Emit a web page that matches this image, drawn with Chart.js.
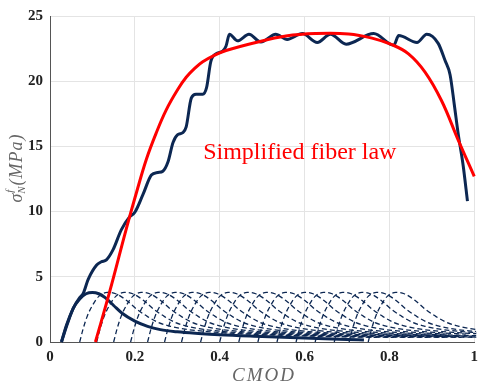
<!DOCTYPE html>
<html>
<head>
<meta charset="utf-8">
<script src="https://cdn.jsdelivr.net/npm/chart.js@4.4.0/dist/chart.umd.min.js"></script>
<style>
  html, body { margin: 0; padding: 0; background: #fff; }
  #wrap { width: 484px; height: 385px; position: relative; }
</style>
</head>
<body>
<div id="wrap"><canvas id="c" width="484" height="385"></canvas></div>
<script>
// ---- data ----
const xTicks = [0, 0.2, 0.4, 0.6, 0.8, 1];
const yTicks = [0, 5, 10, 15, 20, 25];

// aggregate fiber response (solid navy)
const mainCmod = [0.027,0.039,0.055,0.07,0.078,0.09,0.11,0.121,0.133,0.149,0.168,0.188,0.2,0.219,0.239,0.254,0.266,0.278,0.29,0.301,0.313,0.321,0.333,0.344,0.36,0.369,0.379,0.391,0.407,0.415,0.423,0.442,0.469,0.497,0.532,0.559,0.595,0.63,0.661,0.698,0.763,0.81,0.822,0.865,0.888,0.915,0.931,0.943,0.953,0.962,0.974,0.984];
const mainSigma = [0,1.3,2.6,3.4,3.7,4.8,5.9,6.15,6.3,7.1,8.6,9.6,9.95,11.3,12.8,13.0,13.1,13.8,15.3,15.9,16.05,16.5,18.7,19.0,19.0,19.5,21.5,22.1,22.3,22.7,23.6,23.1,23.6,23.0,23.6,23.2,23.65,22.97,23.6,22.84,23.65,22.75,23.5,22.97,23.6,22.9,21.6,20.5,18.2,16.0,13.5,10.8];

// simplified fiber law (red)
const lawCmod = [0.107,0.141,0.18,0.205,0.227,0.25,0.274,0.3,0.321,0.345,0.36,0.385,0.415,0.485,0.556,0.626,0.704,0.759,0.806,0.845,0.884,0.923,0.962,1.0];
const lawSigma = [0,3.9,8.7,11.6,14.0,16.0,17.8,19.3,20.3,21.1,21.5,21.95,22.35,22.97,23.46,23.65,23.62,23.3,22.8,22.1,20.7,18.5,15.5,12.7];

// first single-fiber curve (solid navy)
const firstCmod = [0.027,0.04,0.055,0.07,0.085,0.1,0.115,0.13,0.15,0.17,0.2,0.23,0.26,0.3,0.35,0.4,0.5,0.6,0.7,0.74];
const firstSigma = [0,1.3,2.6,3.3,3.7,3.8,3.7,3.4,2.8,2.2,1.6,1.2,0.95,0.78,0.65,0.55,0.42,0.3,0.2,0.15];

// later single-fiber curves (dashed): one common profile, shifted to each start
const dashProfileDx = [0,0.008,0.018,0.03,0.045,0.065,0.085,0.11,0.135,0.16,0.185,0.215,0.245,0.3,0.4,0.55,0.7];
const dashProfileSigma = [0,1.0,2.0,2.8,3.5,3.8,3.7,3.2,2.5,1.95,1.5,1.2,1.0,0.8,0.6,0.45,0.35];
const dashStarts = [0.07,0.11,0.15,0.19,0.23,0.27,0.31,0.355,0.40,0.445,0.49,0.535,0.58,0.625,0.67,0.705,0.75];

const labelText = "Simplified fiber law";

// ---- build datasets ----
const navy = '#0c2752';
const pts = (xs, ys) => xs.map((x, i) => ({x: x, y: ys[i]}));

const datasets = [];
datasets.push({ data: pts(lawCmod, lawSigma), borderColor: '#ff0000', borderWidth: 3, order: 0, tension: 0.4, cubicInterpolationMode: 'default' });
datasets.push({ data: pts(mainCmod, mainSigma), borderColor: navy, borderWidth: 3, order: 1, cubicInterpolationMode: 'monotone' });
datasets.push({ data: pts(firstCmod, firstSigma), borderColor: navy, borderWidth: 3, order: 2, cubicInterpolationMode: 'monotone' });
dashStarts.forEach(s => {
  const d = [];
  dashProfileDx.forEach((dx, i) => { if (s + dx <= 1.08) d.push({x: s + dx, y: dashProfileSigma[i]}); });
  datasets.push({ data: d, borderColor: navy, borderWidth: 1.3, borderDash: [5, 3], order: 3, cubicInterpolationMode: 'monotone' });
});
datasets.forEach(d => { d.pointRadius = 0; d.fill = false; d.clip = 2; });

const serif = '"Liberation Serif", "DejaVu Serif", serif';

const textPlugin = {
  id: 'texts',
  afterDatasetsDraw(chart) {
    const ctx = chart.ctx;
    const xs = chart.scales.x, ys = chart.scales.y;
    ctx.save();
    // in-plot label
    ctx.fillStyle = '#ff0000';
    ctx.font = '24px ' + serif;
    ctx.textBaseline = 'alphabetic';
    ctx.textAlign = 'left';
    ctx.fillText(labelText, xs.getPixelForValue(0.361), ys.getPixelForValue(14.0));
    ctx.restore();
    // x title, letters spaced like math italic
    ctx.save();
    ctx.fillStyle = '#666';
    ctx.font = 'italic 19px ' + serif;
    ctx.textAlign = 'left';
    ctx.textBaseline = 'middle';
    const xt = 'CMOD';
    let tw = 0; for (const ch of xt) tw += ctx.measureText(ch).width + 2;
    tw -= 2;
    let cx = 263 - tw / 2;
    for (const ch of xt) { ctx.fillText(ch, cx, 376); cx += ctx.measureText(ch).width + 2; }
    ctx.restore();
    // y title with sub/superscript
    ctx.save();
    ctx.translate(17, 168);
    ctx.rotate(-Math.PI / 2);
    ctx.fillStyle = '#666';
    ctx.textBaseline = 'middle';
    ctx.textAlign = 'left';
    const big = 'italic 18px ' + serif, small = 'italic 11px ' + serif;
    ctx.font = big; const w = ctx.measureText('σ').width;
    ctx.font = small; const wN = ctx.measureText('N').width;
    ctx.font = big;
    let wRest = 0; for (const ch of '(MPa)') wRest += ctx.measureText(ch).width + 1;
    let x = -(w + wN + 1 + wRest) / 2;
    ctx.font = big; ctx.fillText('σ', x, 0); x += w;
    ctx.font = small; ctx.fillText('f', x + 1, -7); ctx.fillText('N', x, 5); x += wN + 1;
    ctx.font = big;
    for (const ch of '(MPa)') { ctx.fillText(ch, x, 0); x += ctx.measureText(ch).width + 1; }
    ctx.restore();
  }
};

new Chart(document.getElementById('c'), {
  type: 'line',
  data: { datasets: datasets },
  options: {
    responsive: false,
    animation: false,
    layout: { padding: { left: 0, right: 8, top: 6, bottom: 0 } },
    plugins: { legend: { display: false }, tooltip: { enabled: false } },
    scales: {
      x: {
        type: 'linear', min: 0, max: 1,
        afterBuildTicks: s => { s.ticks = xTicks.map(v => ({value: v})); },
        afterFit: s => { s.height = 43; },
        grid: { color: '#e4e4e4', drawTicks: false },
        border: { color: '#555', width: 1 },
        ticks: { padding: 6, color: '#222', font: { family: serif, size: 15, weight: 'bold' },
                 callback: v => String(v), maxRotation: 0 }
      },
      y: {
        type: 'linear', min: 0, max: 25,
        afterBuildTicks: s => { s.ticks = yTicks.map(v => ({value: v})); },
        afterFit: s => { s.width = 50; },
        grid: { color: '#e4e4e4', drawTicks: false },
        border: { color: '#555', width: 1 },
        ticks: { padding: 7, color: '#222', font: { family: serif, size: 15, weight: 'bold' },
                 callback: v => String(v) }
      }
    }
  },
  plugins: [textPlugin]
});
</script>
</body>
</html>
